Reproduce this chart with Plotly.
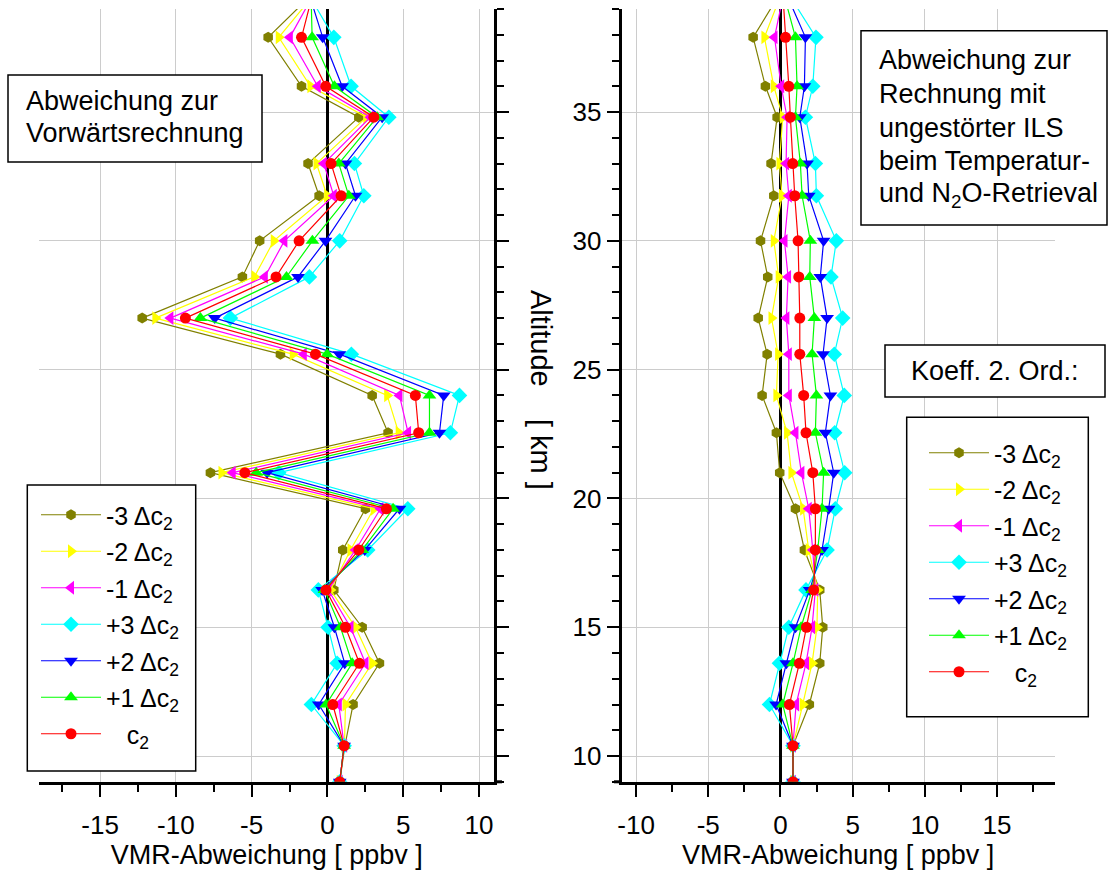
import plotly.graph_objects as go

W, H = 1109, 870
FONT = "Arial, 'Liberation Sans', sans-serif"

# ---------------- data ----------------
altitude = [9.0, 10.4, 12.0, 13.6, 15.0, 16.45, 18.0, 19.6, 21.0, 22.55, 24.0,
            25.6, 27.0, 28.6, 30.0, 31.75, 33.0, 34.8, 36.0, 37.9, 40.0]

series_names = ["-3 Δc<sub>2</sub>", "-2 Δc<sub>2</sub>", "-1 Δc<sub>2</sub>",
                "+3 Δc<sub>2</sub>", "+2 Δc<sub>2</sub>", "+1 Δc<sub>2</sub>",
                "\u00a0\u00a0\u00a0c<sub>2</sub>"]

# left panel: deviation from forward calculation
left_m3 = [0.81, 1.15, 1.69, 3.43, 2.29, 0.42, 1.01, 2.51, -7.72, 4.00, 2.95, -3.10, -12.22, -5.61, -4.47, -0.55, -1.28, 2.07, -1.71, -3.91, -0.26]
left_m2 = [0.81, 1.12, 1.19, 2.95, 1.85, 0.20, 1.52, 3.06, -6.99, 4.70, 3.94, -2.29, -11.35, -4.82, -3.54, -0.02, -0.72, 2.57, -1.12, -3.21, -0.27]
left_m1 = [0.81, 1.10, 0.75, 2.51, 1.52, 0.05, 1.85, 3.50, -6.25, 5.32, 4.75, -1.56, -10.36, -4.13, -2.84, 0.42, -0.24, 2.84, -0.64, -2.48, -0.51]
left_p3 = [0.81, 1.10, -1.06, 0.64, 0.04, -0.60, 2.66, 5.30, -3.21, 8.11, 8.71, 1.58, -6.40, -1.19, 0.81, 2.40, 1.78, 4.05, 1.56, 0.42, -1.68]
left_p2 = [0.81, 1.10, -0.57, 1.14, 0.46, -0.35, 2.46, 4.75, -3.98, 7.39, 7.67, 0.79, -7.43, -1.94, -0.13, 1.85, 1.19, 3.61, 0.97, -0.31, -1.44]
left_p1 = [0.81, 1.10, -0.09, 1.63, 0.86, -0.20, 2.29, 4.33, -4.70, 6.73, 6.73, -0.02, -8.38, -2.70, -0.99, 1.41, 0.75, 3.28, 0.46, -1.01, -1.10]
left_c2 = [0.81, 1.10, 0.35, 2.11, 1.19, -0.10, 2.07, 3.89, -5.45, 6.02, 5.80, -0.79, -9.37, -3.39, -1.87, 0.90, 0.24, 3.06, -0.11, -1.71, -0.79]

# right panel: deviation from calculation with undisturbed ILS
right_m3 = [0.87, 0.87, 2.00, 2.72, 2.93, 2.72, 1.66, 1.04, -0.05, -0.28, -1.27, -0.92, -1.54, -0.88, -1.38, -0.46, -0.65, -0.23, -1.04, -1.89, 0.40]
right_m2 = [0.87, 0.87, 1.54, 2.19, 2.53, 2.58, 1.96, 1.57, 0.76, 0.46, -0.28, -0.16, -0.62, -0.12, -0.46, 0.11, -0.07, 0.16, -0.46, -1.11, 0.34]
right_m1 = [0.87, 0.87, 1.08, 1.77, 2.19, 2.42, 2.24, 1.96, 1.45, 1.04, 0.58, 0.58, 0.41, 0.53, 0.28, 0.58, 0.39, 0.46, 0.05, -0.41, 0.37]
right_p3 = [0.87, 0.87, -0.76, -0.07, 0.58, 1.77, 3.23, 3.80, 4.45, 3.76, 4.42, 3.73, 4.31, 3.50, 3.87, 2.49, 2.42, 1.73, 2.24, 2.46, 0.09]
right_p2 = [0.87, 0.87, -0.30, 0.41, 1.04, 2.03, 2.88, 3.34, 3.69, 3.11, 3.46, 2.95, 3.23, 2.76, 2.99, 1.96, 1.84, 1.34, 1.66, 1.73, 0.09]
right_p1 = [0.87, 0.87, 0.16, 0.87, 1.43, 2.19, 2.58, 2.88, 2.99, 2.42, 2.49, 2.19, 2.35, 2.03, 2.07, 1.50, 1.38, 1.04, 1.15, 1.04, 0.03]
right_c2 = [0.87, 0.87, 0.62, 1.31, 1.80, 2.30, 2.42, 2.42, 2.24, 1.77, 1.61, 1.34, 1.34, 1.27, 1.22, 0.99, 0.85, 0.69, 0.58, 0.35, 0.12]

x_ticks_left = [-15, -10, -5, 0, 5, 10]
x_labels_left = ["-15", "-10", "-5", "0", "5", "10"]
x_ticks_right = [-10, -5, 0, 5, 10, 15]
x_labels_right = ["-10", "-5", "0", "5", "10", "15"]
y_ticks = [10, 15, 20, 25, 30, 35]
y_labels = ["10", "15", "20", "25", "30", "35"]

colors = ["#808000", "#FFFF00", "#FF00FF", "#00FFFF", "#0000FF", "#00FF00", "#FF0000"]
symbols = ["hexagon", "triangle-right", "triangle-left", "diamond",
           "triangle-down", "triangle-up", "circle"]
sizes = [11, 12, 12, 12, 12, 12, 11]

left_series = [left_m3, left_m2, left_m1, left_p3, left_p2, left_p1, left_c2]
right_series = [right_m3, right_m2, right_m1, right_p3, right_p2, right_p1, right_c2]

fig = go.Figure()
for i, vals in enumerate(left_series):
    fig.add_trace(go.Scatter(
        x=vals, y=altitude, xaxis="x", yaxis="y", mode="lines+markers",
        name=series_names[i], legend="legend", legendgroup=f"L{i}",
        line=dict(color=colors[i], width=1.2),
        marker=dict(symbol=symbols[i], size=sizes[i], color=colors[i], line=dict(width=0)),
        cliponaxis=True))
for i, vals in enumerate(right_series):
    fig.add_trace(go.Scatter(
        x=vals, y=altitude, xaxis="x2", yaxis="y2", mode="lines+markers",
        name=series_names[i], legend="legend2", legendgroup=f"R{i}",
        line=dict(color=colors[i], width=1.2),
        marker=dict(symbol=symbols[i], size=sizes[i], color=colors[i], line=dict(width=0)),
        cliponaxis=True))

def px_x(v):
    return v / W

def px_y(v):
    return 1 - v / H

Y_BOTTOM, Y_TOP = 781.8, 9.0
ydom = [px_y(Y_BOTTOM), px_y(Y_TOP)]

common_x = dict(
    automargin=False,
    ticks="outside", ticklen=12, tickwidth=2, tickcolor="black",
    showline=True, linewidth=3, linecolor="black",
    showgrid=True, gridcolor="#cccccc", gridwidth=1.3,
    zeroline=True, zerolinecolor="black", zerolinewidth=3,
    minor=dict(dtick=2.5, tick0=0, ticks="outside", ticklen=7, tickwidth=2,
               tickcolor="black", showgrid=False),
    tickfont=dict(size=26, family=FONT, color="black"),
    ticklabelstandoff=6,
    title=dict(text="VMR-Abweichung [ ppbv ]", font=dict(size=27, family=FONT, color="black"),
               standoff=6),
)
common_y = dict(
    automargin=False,
    range=[9, 39], domain=ydom, tickvals=y_ticks, ticktext=y_labels,
    ticks="outside", ticklen=12, tickwidth=2, tickcolor="black",
    showline=True, linewidth=3, linecolor="black",
    showgrid=True, gridcolor="#cccccc", gridwidth=1.3, zeroline=False,
    minor=dict(dtick=1, tick0=0, ticks="outside", ticklen=7, tickwidth=2,
               tickcolor="black", showgrid=False),
    tickfont=dict(size=26, family=FONT, color="black"),
)

legend_common = dict(xanchor="left", yanchor="top", bgcolor="rgba(0,0,0,0)",
                     borderwidth=0, font=dict(size=25, family=FONT, color="black"),
                     itemwidth=60, tracegroupgap=1)

fig.update_layout(
    width=W, height=H, margin=dict(l=0, r=0, t=0, b=0, autoexpand=False),
    paper_bgcolor="white", plot_bgcolor="white",
    font=dict(family=FONT, color="black"),
    xaxis=dict(domain=[px_x(39.4), px_x(494.2)], range=[-19, 11],
               tickvals=x_ticks_left, ticktext=x_labels_left, anchor="y", **common_x),
    xaxis2=dict(domain=[px_x(621.6), px_x(1054.8)], range=[-11, 19],
                tickvals=x_ticks_right, ticktext=x_labels_right, anchor="y2", **common_x),
    yaxis=dict(anchor="x", side="right", showticklabels=False, **common_y),
    yaxis2=dict(anchor="x2", side="left", **common_y),
    legend=dict(x=px_x(36), y=px_y(492), **legend_common),
    legend2=dict(x=px_x(924), y=px_y(430), **legend_common),
    showlegend=True,
)

# boxes (text boxes and legend frames)
box_line = dict(color="black", width=1.5)
boxes = [(8, 75, 262, 162), (861, 30.7, 1107, 225), (885, 345, 1105, 397),
         (27.3, 485, 195.7, 771), (906.7, 417.3, 1088.3, 716.7)]
for (bx0, by0, bx1, by1) in boxes:
    fig.add_shape(type="rect", xref="paper", yref="paper", x0=px_x(bx0), x1=px_x(bx1),
                  y0=px_y(by1), y1=px_y(by0), line=box_line, fillcolor="white", layer="above")

# small overhang of the bottom axis lines past the altitude axes
for (lx0, lx1) in [(494.2, 502), (614, 621.6)]:
    fig.add_shape(type="line", xref="paper", yref="paper", x0=px_x(lx0), x1=px_x(lx1),
                  y0=px_y(Y_BOTTOM), y1=px_y(Y_BOTTOM), line=dict(color="black", width=3))

left_box_lines = ["Abweichung zur", "Vorwärtsrechnung"]
left_box_mid = [101, 132.5]
for t, ym in zip(left_box_lines, left_box_mid):
    fig.add_annotation(text=t, xref="paper", yref="paper", x=px_x(24), y=px_y(ym),
                       xanchor="left", yanchor="middle", showarrow=False,
                       font=dict(size=27, family=FONT, color="black"))

right_box_lines = ["Abweichung zur", "Rechnung mit", "ungestörter ILS",
                   "beim Temperatur-", "und N<sub>2</sub>O-Retrieval"]
right_box_mid = [60, 93.75, 127.5, 161.25, 195]
for t, ym in zip(right_box_lines, right_box_mid):
    fig.add_annotation(text=t, xref="paper", yref="paper", x=px_x(877), y=px_y(ym),
                       xanchor="left", yanchor="middle", showarrow=False,
                       font=dict(size=27, family=FONT, color="black"))

fig.add_annotation(text="Koeff. 2. Ord.:", xref="paper", yref="paper", x=px_x(995), y=px_y(371),
                   xanchor="center", yanchor="middle", showarrow=False,
                   font=dict(size=27, family=FONT, color="black"))

fig.add_annotation(text="Altitude\u00a0\u00a0\u00a0\u00a0[ km ]", xref="paper", yref="paper",
                   x=px_x(541), y=px_y(390), textangle=90,
                   xanchor="center", yanchor="middle", showarrow=False,
                   font=dict(size=29, family=FONT, color="black"))

fig.write_html(
    "out.html",
    config={"displayModeBar": False},
    post_script="document.body.style.margin='0';document.body.style.padding='0';"
                "document.body.style.overflow='hidden';",
)
